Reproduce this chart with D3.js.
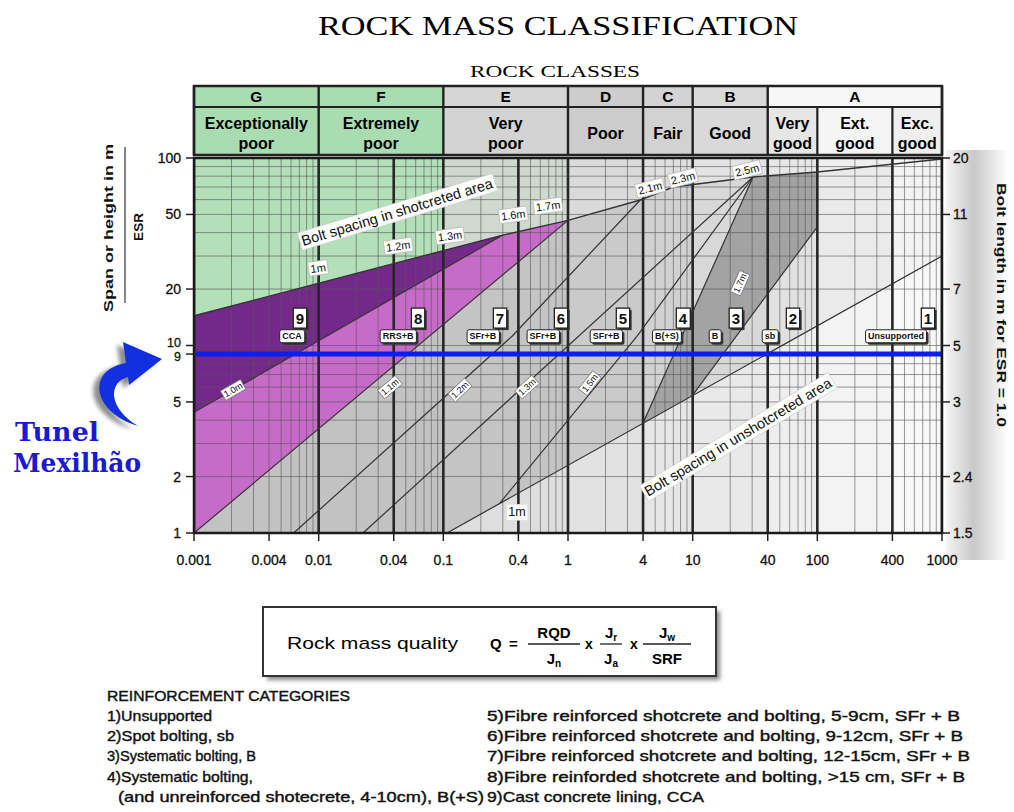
<!DOCTYPE html>
<html><head><meta charset="utf-8">
<script src="https://cdnjs.cloudflare.com/ajax/libs/d3/7.8.5/d3.min.js"></script>
<style>body{margin:0;background:#fff}svg{display:block}</style>
</head><body><svg id="c" width="1014" height="812"></svg>
<script>
// ---------------- DATA ----------------
const rockClasses = ["G","F","E","D","C","B","A"];
const classBounds = [0.001,0.01,0.1,1,4,10,40,1000];
const classNames = [["Exceptionally","poor"],["Extremely","poor"],["Very","poor"],["Poor"],["Fair"],["Good"]];
const aSubBounds = [40,100,400,1000];
const aSubNames = [["Very","good"],["Ext.","good"],["Exc.","good"]];
const colBounds = [0.001,0.01,0.1,1,4,10,40,100,400,1000];

const qTicks = [0.001,0.004,0.01,0.04,0.1,0.4,1,4,10,40,100,400,1000];
const qTickLabels = ["0.001","0.004","0.01","0.04","0.1","0.4","1","4","10","40","100","400","1000"];
const qMajorLines = [0.001,0.01,0.04,0.1,0.4,1,4,10,40,100,400,1000];
const spanTicks = [1,2,5,9,10,20,50,100];
const spanTickLabels = ["1","2","5","9","10","20","50","100"];
const boltTicks = [1,2,5,10,20,50,100];
const boltTickLabels = ["1.5","2.4","3","5","7","11","20"];

// bolt spacing line in shotcreted area [Q, span/ESR]
const boltLineShot = [[0.001,14.4],[0.3,38.8],[1,46.5],[3.8,59.7],[7,70],[30.5,79.2],[100,84.2],[1000,98.8]];
// category boundaries [Q, span/ESR]
const boundary9_8 = [[0.001,4.4],[0.3,38.8]];
const boundary8_7 = [[0.001,1],[1,46.5]];
const boundary7_6 = [[0.0063,1],[0.356,11.2],[3.8,59.7]];
const boundary6_5 = [[0.0227,1],[30.5,79.2]];
const boundary5_4 = [[0.284,1.445],[3.57,11.2],[30.5,79.2]];
const boundary4_3 = [[4,3.86],[30.5,79.2]];
const boundary3_2 = [[10,5.44],[100,42.9]];
const boundary2_1 = [[0.107,1],[1000,30]];
// shaded regions
const region9 = [[0.001,14.4],[0.3,38.8],[0.001,4.4]];
const region8 = [[0.001,4.4],[0.3,38.8],[1,46.5],[0.001,1]];
const region3 = [[4,3.86],[30.5,79.2],[100,84.2],[100,42.9],[10,5.44]];
const region1 = [[0.107,1],[1000,30],[1000,1]];

const tunnelSpan = 9;

const categoryNums = ["9","8","7","6","5","4","3","2","1"];
const categoryNumQ = [0.00708,0.0627,0.285,0.879,2.76,8.36,22.2,63.8,772];
const categoryNumS = 14.0;
const categoryCodes = ["CCA","RRS+B","SFr+B","SFr+B","SFr+B","B(+S)","B","sb","Unsupported"];
const categoryCodeQ = [0.00611,0.0433,0.208,0.630,2.02,6.22,15.1,41.7,428];
const categoryCodeS = 11.2;

const shotSpacingText = ["1m","1.2m","1.3m","1.6m","1.7m","2.1m","2.3m","2.5m"];
const shotSpacingQ = [0.0099,0.0435,0.113,0.364,0.692,4.55,8.36,27.3];
const shotSpacingS = [25.9,33.9,38.4,49.7,55.5,69.2,78.2,86.3];

const lineSpacingText = ["1.0m","1.1m","1.2m","1.3m","1.5m","1.7m"];
const lineSpacingQ = [0.00206,0.0373,0.136,0.469,1.5,24];
const lineSpacingS = [5.79,6.0,5.79,6.0,6.3,21.5];

const legendLeft = ["1)Unsupported","2)Spot bolting, sb","3)Systematic bolting, B","4)Systematic bolting,","(and unreinforced shotecrete, 4-10cm), B(+S)"];
const legendRight = ["5)Fibre reinforced shotcrete and bolting, 5-9cm, SFr + B","6)Fibre reinforced shotcrete and bolting, 9-12cm, SFr + B","7)Fibre reinforced shotcrete and bolting, 12-15cm, SFr + B","8)Fibre reinforded shotcrete and bolting, >15 cm, SFr + B","9)Cast concrete lining, CCA"];

// ---------------- DRAW ----------------
const svg = d3.select("#c");
const SANS = "'Liberation Sans', Arial, sans-serif";
const SERIF = "'Liberation Serif', 'Times New Roman', serif";
const x = d3.scaleLog().domain([0.001,1000]).range([194,942]);
const y = d3.scaleLog().domain([1,100]).range([533,158]);
const L = d3.line().x(d=>x(d[0])).y(d=>y(d[1]));
const poly = pts => L(pts)+"Z";

const defs = svg.append("defs");
defs.append("clipPath").attr("id","plotClip").append("rect")
  .attr("x",x(0.001)).attr("y",y(100)).attr("width",x(1000)-x(0.001)).attr("height",y(1)-y(100));
defs.append("clipPath").attr("id","aboveClip").append("path")
  .attr("d", poly(boltLineShot.concat([[1000,100],[0.001,100]])));
const f = defs.append("filter").attr("id","blur").attr("x","-20%").attr("y","-20%").attr("width","140%").attr("height","140%");
f.append("feGaussianBlur").attr("stdDeviation",2);
const gr = defs.append("linearGradient").attr("id","rightShade").attr("x1","0").attr("x2","1").attr("y1","0").attr("y2","0");
gr.append("stop").attr("offset","0%").attr("stop-color","#f4f4f4");
gr.append("stop").attr("offset","45%").attr("stop-color","#c9c9c9");
gr.append("stop").attr("offset","100%").attr("stop-color","#ffffff");

// right margin shading
svg.append("rect").attr("x",946).attr("y",150).attr("width",62).attr("height",410).attr("fill","url(#rightShade)");

// Titles
svg.append("text").attr("x",558).attr("y",35).attr("text-anchor","middle")
  .attr("font-family",SERIF).attr("font-size",28).attr("textLength",480).attr("lengthAdjust","spacingAndGlyphs")
  .text("ROCK MASS CLASSIFICATION");
svg.append("text").attr("x",555).attr("y",77).attr("text-anchor","middle")
  .attr("font-family",SERIF).attr("font-size",17).attr("textLength",170).attr("lengthAdjust","spacingAndGlyphs")
  .text("ROCK CLASSES");

// Header
const hTop = 86, hMid = 107, hBot = 155;
const headBg1 = ["#a9dcb0","#a9dcb0","#d6d6d6","#cdcdcd","#d3d3d3","#dadada","#f7f7f7"];
const headBg2 = ["#a9dcb0","#a9dcb0","#d3d3d3","#cccccc","#d2d2d2","#d9d9d9"];
const subBg = ["#e6e6e6","#f5f5f5","#efefef"];
const head = svg.append("g");
rockClasses.forEach((c,i)=>{
  const x0=x(classBounds[i]), x1=x(classBounds[i+1]);
  head.append("rect").attr("x",x0).attr("y",hTop).attr("width",x1-x0).attr("height",hMid-hTop).attr("fill",headBg1[i]);
  if(i<6) head.append("rect").attr("x",x0).attr("y",hMid).attr("width",x1-x0).attr("height",hBot-hMid).attr("fill",headBg2[i]);
  head.append("text").attr("x",(x0+x1)/2).attr("y",hMid-5).attr("text-anchor","middle")
    .attr("font-family",SANS).attr("font-weight","bold").attr("font-size",15.5).text(c);
  if(i<6){
    const nm=classNames[i];
    nm.forEach((t,k)=>{
      const yy = nm.length===1 ? 139 : 129+k*20;
      head.append("text").attr("x",(x0+x1)/2).attr("y",yy).attr("text-anchor","middle")
        .attr("font-family",SANS).attr("font-weight","bold").attr("font-size",16).text(t);
    });
  }
});
aSubNames.forEach((nm,i)=>{
  const x0=x(aSubBounds[i]), x1=x(aSubBounds[i+1]);
  head.append("rect").attr("x",x0).attr("y",hMid).attr("width",x1-x0).attr("height",hBot-hMid).attr("fill",subBg[i]);
  nm.forEach((t,k)=>head.append("text").attr("x",(x0+x1)/2).attr("y",129+k*20).attr("text-anchor","middle")
    .attr("font-family",SANS).attr("font-weight","bold").attr("font-size",16).text(t));
});
head.append("line").attr("x1",x(0.001)).attr("x2",x(1000)).attr("y1",hMid).attr("y2",hMid).attr("stroke","#222").attr("stroke-width",2);
classBounds.forEach(b=>head.append("line").attr("x1",x(b)).attr("x2",x(b)).attr("y1",hTop).attr("y2",hBot).attr("stroke","#222").attr("stroke-width",2.4));
[100,400].forEach(b=>head.append("line").attr("x1",x(b)).attr("x2",x(b)).attr("y1",hMid).attr("y2",hBot).attr("stroke","#222").attr("stroke-width",2.2));
head.append("rect").attr("x",x(0.001)).attr("y",hTop).attr("width",x(1000)-x(0.001)).attr("height",hBot-hTop)
  .attr("fill","none").attr("stroke","#222").attr("stroke-width",2.5);

// Plot backgrounds
const colBelow = ["#c2c2c2","#c2c2c2","#c4c4c4","#cacaca","#d1d1d1","#d8d8d8","#e1e1e1","#eaeaea","#f3f3f3"];
const colAbove = ["#b3dfb9","#b3dfb9","#cfd9cf","#dadada","#dfdfdf","#e3e3e3","#e7e7e7","#eeeeee","#f5f5f5"];
const plot = svg.append("g").attr("clip-path","url(#plotClip)");
for(let i=0;i<colBounds.length-1;i++){
  plot.append("rect").attr("x",x(colBounds[i])).attr("y",y(100)).attr("width",x(colBounds[i+1])-x(colBounds[i]))
    .attr("height",y(1)-y(100)).attr("fill",colBelow[i]);
}
const above = plot.append("g").attr("clip-path","url(#aboveClip)");
for(let i=0;i<colBounds.length-1;i++){
  above.append("rect").attr("x",x(colBounds[i])).attr("y",y(100)).attr("width",x(colBounds[i+1])-x(colBounds[i]))
    .attr("height",y(1)-y(100)).attr("fill",colAbove[i]);
}
plot.append("path").attr("d",poly(region1)).attr("fill","#ffffff").attr("opacity",0.45);
plot.append("path").attr("d",poly(region3)).attr("fill","#a3a3a3");
plot.append("path").attr("d",poly(region8)).attr("fill","#c76bc9");
plot.append("path").attr("d",poly(region9)).attr("fill","#74298a");

// grid
x.ticks().forEach(t=>plot.append("line").attr("x1",x(t)).attr("x2",x(t)).attr("y1",y(1)).attr("y2",y(100))
  .attr("stroke","#555").attr("stroke-width",1).attr("opacity",0.6));
y.ticks().forEach(t=>plot.append("line").attr("x1",x(0.001)).attr("x2",x(1000)).attr("y1",y(t)).attr("y2",y(t))
  .attr("stroke","#555").attr("stroke-width",1).attr("opacity",0.6));
qMajorLines.forEach(t=>plot.append("line").attr("x1",x(t)).attr("x2",x(t)).attr("y1",y(1)).attr("y2",y(100))
  .attr("stroke","#262626").attr("stroke-width",2.6));

// boundary lines
[boundary9_8,boundary8_7,boundary7_6,boundary6_5,boundary5_4,boundary4_3,boundary3_2,boundary2_1].forEach(b=>{
  plot.append("path").attr("d",L(b)).attr("fill","none").attr("stroke","#333").attr("stroke-width",1.2);
});
plot.append("path").attr("d",L(boltLineShot)).attr("fill","none").attr("stroke","#333").attr("stroke-width",1.4);

// label helper
function boxText(g, cx, cy, txt, o){
  const gg = g.append("g").attr("transform",`translate(${cx},${cy}) rotate(${o.rot||0})`);
  const sh = gg.append("rect"), bg = gg.append("rect");
  const t = gg.append("text").attr("text-anchor","middle").attr("dominant-baseline","central")
    .attr("font-family",SANS).attr("font-weight",o.bold?"bold":"normal").attr("font-size",o.size).attr("fill",o.color||"#111").text(txt);
  const bb = t.node().getBBox();
  const p = o.pad||2;
  bg.attr("x",bb.x-p).attr("y",bb.y-p+1).attr("width",bb.width+2*p).attr("height",bb.height+2*p-2)
    .attr("fill","#fff").attr("stroke",o.stroke||"#444").attr("stroke-width",o.sw||1).attr("rx",o.rx||0);
  if(o.shadow) sh.attr("x",bb.x-p+2).attr("y",bb.y-p+3).attr("width",bb.width+2*p).attr("height",bb.height+2*p-2).attr("fill","#333").attr("rx",o.rx||0);
}
const ang = (a,b)=>Math.atan2(y(b[1])-y(a[1]), x(b[0])-x(a[0]))*180/Math.PI;

const labs = svg.append("g");
// top spacing labels
shotSpacingText.forEach((t,i)=>{
  const seg = i<5 ? -8 : -14;
  boxText(labs, x(shotSpacingQ[i]), y(shotSpacingS[i]), t, {size:11, rot:seg, stroke:"#bbb", sw:0.8, pad:2});
});
// labels along category lines
const lineRefs = [boundary9_8,boundary8_7,boundary7_6,boundary6_5,boundary5_4,boundary4_3];
lineSpacingText.forEach((t,i)=>{
  const b = lineRefs[i];
  boxText(labs, x(lineSpacingQ[i]), y(lineSpacingS[i]), t, {size:9, rot:ang(b[0],b[b.length-1]), stroke:"#777", sw:0.8, pad:1.5});
});
// bolt spacing area labels
boxText(labs, x(0.0425), y(51.5), "Bolt spacing in shotcreted area", {size:14.5, rot:-17, stroke:"#ccc", sw:0.6, pad:2});
boxText(labs, x(23.1), y(3.25), "Bolt spacing in unshotcreted area", {size:14.5, rot:-31, stroke:"#ccc", sw:0.6, pad:2});
boxText(labs, x(0.39), y(1.29), "1m", {size:12.5, stroke:"#ddd", sw:0.5, pad:2});

// category labels
categoryNums.forEach((t,i)=>{
  boxText(labs, x(categoryNumQ[i]), y(categoryNumS), t, {size:15, bold:true, stroke:"#222", sw:1.3, pad:2.5, shadow:true});
  boxText(labs, x(categoryCodeQ[i]), y(categoryCodeS), categoryCodes[i], {size:9, bold:true, stroke:"#222", sw:1, pad:2.5, rx:2, shadow:true});
});

// tunnel line
svg.append("line").attr("x1",x(0.001)+2).attr("x2",x(1000)).attr("y1",y(tunnelSpan)).attr("y2",y(tunnelSpan))
  .attr("stroke","#0a1ef0").attr("stroke-width",5);

// frame
svg.append("rect").attr("x",x(0.001)).attr("y",y(100)).attr("width",x(1000)-x(0.001)).attr("height",y(1)-y(100))
  .attr("fill","none").attr("stroke","#1a1a1a").attr("stroke-width",2.5);

// Axes ticks & labels
const ax = svg.append("g").attr("font-family",SANS).attr("fill","#111");
qTicks.forEach((t,i)=>{
  ax.append("line").attr("x1",x(t)).attr("x2",x(t)).attr("y1",y(1)).attr("y2",y(1)+8).attr("stroke","#222").attr("stroke-width",1.5);
  ax.append("text").attr("x",x(t)).attr("y",y(1)+32).attr("text-anchor","middle").attr("font-size",14)
    .attr("stroke","#111").attr("stroke-width",0.3).text(qTickLabels[i]);
});
const spanDy = {10:1, 9:7};
spanTicks.forEach((t,i)=>{
  ax.append("line").attr("x1",x(0.001)-8).attr("x2",x(0.001)).attr("y1",y(t)).attr("y2",y(t)).attr("stroke","#222").attr("stroke-width",1.5);
  ax.append("text").attr("x",x(0.001)-13).attr("y",y(t)+(spanDy[t]!==undefined?spanDy[t]:5)).attr("text-anchor","end")
    .attr("font-size",(t===9||t===10)?12.5:14).attr("stroke","#111").attr("stroke-width",0.3).text(spanTickLabels[i]);
});
boltTicks.forEach((t,i)=>{
  ax.append("line").attr("x1",x(1000)).attr("x2",x(1000)+8).attr("y1",y(t)).attr("y2",y(t)).attr("stroke","#222").attr("stroke-width",1.5);
  ax.append("text").attr("x",x(1000)+11).attr("y",y(t)+5).attr("text-anchor","start").attr("font-size",14)
    .attr("stroke","#111").attr("stroke-width",0.3).text(boltTickLabels[i]);
});
// axis titles
ax.append("text").attr("transform",`translate(113,228) rotate(-90)`).attr("text-anchor","middle")
  .attr("font-weight","bold").attr("font-size",13.5).attr("textLength",168).attr("lengthAdjust","spacingAndGlyphs").text("Span or height in m");
ax.append("line").attr("x1",125).attr("x2",125).attr("y1",147).attr("y2",303).attr("stroke","#333").attr("stroke-width",1.2);
ax.append("text").attr("transform",`translate(143,227) rotate(-90)`).attr("text-anchor","middle")
  .attr("font-weight","bold").attr("font-size",13.5).text("ESR");
ax.append("text").attr("transform",`translate(997,305) rotate(90)`).attr("text-anchor","middle")
  .attr("font-weight","bold").attr("font-size",13.5).attr("textLength",244).attr("lengthAdjust","spacingAndGlyphs").text("Bolt length in m for ESR = 1.0");

// Tunnel annotation
const ay = y(tunnelSpan), axp = x(0.001)-34;
const arrowPath = `M ${axp-22},${ay+72} C ${axp-68},${ay+58} ${axp-74},${ay+16} ${axp-34},${ay+9} L ${axp-37},${ay-12} L ${axp+2},${ay+5} L ${axp-31},${ay+31} L ${axp-32},${ay+23} C ${axp-52},${ay+28} ${axp-52},${ay+54} ${axp-22},${ay+72} Z`;
svg.append("path").attr("d",arrowPath).attr("transform","translate(-6,3)").attr("fill","#333").attr("opacity",0.55).attr("filter","url(#blur)");
svg.append("path").attr("d",arrowPath).attr("fill","#1330e0");
svg.append("text").attr("x",15).attr("y",441).attr("font-family","'DejaVu Serif', serif").attr("font-weight","bold")
  .attr("font-size",26).attr("fill","#1a1ad0").attr("textLength",84).attr("lengthAdjust","spacingAndGlyphs").text("Tunel");
svg.append("text").attr("x",13).attr("y",472).attr("font-family","'DejaVu Serif', serif").attr("font-weight","bold")
  .attr("font-size",26).attr("fill","#1a1ad0").attr("textLength",128).attr("lengthAdjust","spacingAndGlyphs").text("Mexilhão");

// Formula box
const fb = svg.append("g").attr("font-family",SANS);
fb.append("rect").attr("x",267).attr("y",611).attr("width",453).attr("height",69).attr("fill","#888").attr("filter","url(#blur)");
fb.append("rect").attr("x",263).attr("y",607).attr("width",453).attr("height",69).attr("fill","#fff").attr("stroke","#333").attr("stroke-width",2);
fb.append("text").attr("x",287).attr("y",649).attr("font-size",17).attr("textLength",171).attr("lengthAdjust","spacingAndGlyphs").text("Rock mass quality");
fb.append("text").attr("x",490).attr("y",649).attr("font-size",15).attr("font-weight","bold").text("Q");
fb.append("text").attr("x",509).attr("y",649).attr("font-size",15).attr("font-weight","bold").text("=");
function frac(cx, top, bot, w){
  const g = fb.append("g").attr("font-weight","bold").attr("font-size",15);
  const t1 = g.append("text").attr("x",cx).attr("y",638).attr("text-anchor","middle");
  top.forEach((s,k)=>t1.append("tspan").attr("font-size",k? 10:15).attr("dy",k?3:0).text(s));
  const t2 = g.append("text").attr("x",cx).attr("y",664).attr("text-anchor","middle");
  bot.forEach((s,k)=>t2.append("tspan").attr("font-size",k? 10:15).attr("dy",k?3:0).text(s));
  g.append("line").attr("x1",cx-w/2).attr("x2",cx+w/2).attr("y1",644).attr("y2",644).attr("stroke","#222").attr("stroke-width",1.3);
}
frac(554,["RQD"],["J","n"],52);
fb.append("text").attr("x",589).attr("y",649).attr("font-size",14).attr("font-weight","bold").attr("text-anchor","middle").text("x");
frac(611,["J","r"],["J","a"],22);
fb.append("text").attr("x",634).attr("y",649).attr("font-size",14).attr("font-weight","bold").attr("text-anchor","middle").text("x");
frac(667,["J","w"],["SRF"],48);

// Legend
const lg = svg.append("g").attr("font-family",SANS).attr("font-size",14.5).attr("fill","#111").attr("stroke","#111").attr("stroke-width",0.4);
lg.append("text").attr("x",107).attr("y",701).attr("textLength",243).attr("lengthAdjust","spacingAndGlyphs").text("REINFORCEMENT CATEGORIES");
const leftW = [105,127,149,146,366];
const leftX = [107,107,107,107,118];
legendLeft.forEach((t,i)=>lg.append("text").attr("x",leftX[i]).attr("y",721+i*20.2).attr("textLength",leftW[i]).attr("lengthAdjust","spacingAndGlyphs").text(t));
const rightW = [473,476,483,478,217];
legendRight.forEach((t,i)=>lg.append("text").attr("x",487).attr("y",721+i*20.2).attr("textLength",rightW[i]).attr("lengthAdjust","spacingAndGlyphs").text(t));
</script></body></html>
